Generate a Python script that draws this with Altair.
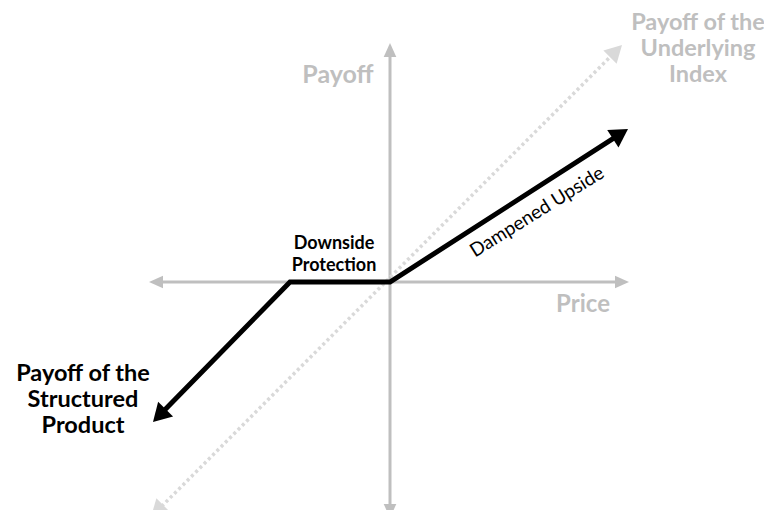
import altair as alt
import pandas as pd
import numpy as np

# Conceptual diagram coordinates: Price on x, Payoff on y, origin where axes cross
axis_h_x = [-241, 239]          # price axis tips
axis_v_y = [-236, 239]          # payoff axis tips
index_x = [-239, 232]           # payoff of the underlying index (dotted 45° line)
index_y = [-235, 237]
product_x = [-237, -100, 0, 238]  # payoff of the structured product
product_y = [-140, 0, 0, 153]

labels = ["Payoff", "Price", "Payoff of the\nUnderlying\nIndex",
          "Downside\nProtection", "Dampened Upside",
          "Payoff of the\nStructured\nProduct"]
label_x = [-52, 193, 308, -56, 147, -307]
label_y = [199, -30, 252, 33, 70, -99]

GRAY = "#bfbfbf"
DOT = "#d9d9d9"


def arrow(tip, prev, back):
    dx, dy = tip[0] - prev[0], tip[1] - prev[1]
    L = float(np.hypot(dx, dy))
    ang = float(np.degrees(np.arctan2(dx, dy)) % 360)
    end = (tip[0] - dx / L * back, tip[1] - dy / L * back)
    return ang, end


def build(seg_points, name, back):
    """Return line rows (shortened ends) and arrow rows for both ends."""
    pts = [list(p) for p in seg_points]
    heads = []
    a0, e0 = arrow(pts[0], pts[1], back)
    a1, e1 = arrow(pts[-1], pts[-2], back)
    heads.append({"x": pts[0][0], "y": pts[0][1], "angle": a0})
    heads.append({"x": pts[-1][0], "y": pts[-1][1], "angle": a1})
    pts[0] = list(e0)
    pts[-1] = list(e1)
    rows = [{"x": p[0], "y": p[1], "seg": name, "o": i} for i, p in enumerate(pts)]
    return rows, heads


X = lambda: alt.X("x:Q", scale=alt.Scale(domain=[-382, 374], nice=False, zero=False), axis=None)
Y = lambda: alt.Y("y:Q", scale=alt.Scale(domain=[-228, 274], nice=False, zero=False), axis=None)

# axes
h_rows, h_heads = build([(axis_h_x[0], 0), (axis_h_x[1], 0)], "h", 7)
v_rows, v_heads = build([(0, axis_v_y[0]), (0, axis_v_y[1])], "v", 7)
axis_df = pd.DataFrame(h_rows + v_rows)
axis_heads = pd.DataFrame(h_heads + v_heads)

# index
i_rows, i_heads = build(list(zip(index_x, index_y)), "i", 9)
index_df = pd.DataFrame(i_rows)
index_heads = pd.DataFrame(i_heads)

# product
p_rows, p_heads = build(list(zip(product_x, product_y)), "p", 10)
prod_df = pd.DataFrame(p_rows)
prod_heads = pd.DataFrame(p_heads)

TRI = lambda hw: f"M0,0L{-hw},1L{hw},1Z"

axis_lines = alt.Chart(axis_df).mark_line(color=GRAY, strokeWidth=3).encode(
    x=X(), y=Y(), detail="seg:N", order="o:Q")
axis_arrows = alt.Chart(axis_heads).mark_point(
    shape=TRI(0.45), size=4 * 14 * 14, filled=True, color=GRAY, opacity=1, strokeWidth=0
).encode(x=X(), y=Y(), angle=alt.Angle("angle:Q", scale=None))

index_line = alt.Chart(index_df).mark_line(color=DOT, strokeWidth=3.5, strokeDash=[3, 3]).encode(
    x=X(), y=Y(), order="o:Q")
index_arrows = alt.Chart(index_heads).mark_point(
    shape=TRI(0.55), size=4 * 17 * 17, filled=True, color=DOT, opacity=1, strokeWidth=0
).encode(x=X(), y=Y(), angle=alt.Angle("angle:Q", scale=None))

prod_line = alt.Chart(prod_df).mark_line(color="black", strokeWidth=5, strokeJoin="miter").encode(
    x=X(), y=Y(), order="o:Q")
prod_arrows = alt.Chart(prod_heads).mark_point(
    shape=TRI(0.58), size=4 * 18 * 18, filled=True, color="black", opacity=1, strokeWidth=0
).encode(x=X(), y=Y(), angle=alt.Angle("angle:Q", scale=None))

lab = pd.DataFrame({"label": labels, "x": label_x, "y": label_y})


def text_layer(idx, **kw):
    return alt.Chart(lab.iloc[[idx]]).mark_text(font="Lato", lineBreak="\n", align="center", **kw).encode(
        x=X(), y=Y(), text="label:N")


t_payoff = text_layer(0, fontSize=25, fontWeight="bold", color=GRAY, baseline="alphabetic")
t_price = text_layer(1, fontSize=24, fontWeight="bold", color=GRAY, baseline="alphabetic")
t_index = text_layer(2, fontSize=23.5, fontWeight="bold", color=GRAY, baseline="alphabetic", lineHeight=26)
t_down = text_layer(3, fontSize=18, fontWeight="bold", color="black", baseline="alphabetic", lineHeight=22)
t_damp = text_layer(4, fontSize=19, fontWeight="normal", color="black", baseline="middle", angle=328)
t_prod = text_layer(5, fontSize=23.5, fontWeight="bold", color="black", baseline="alphabetic", lineHeight=26)

chart = alt.layer(
    axis_lines, axis_arrows, index_line, index_arrows, prod_line, prod_arrows,
    t_payoff, t_price, t_index, t_down, t_damp, t_prod
).properties(
    width=756, height=502, autosize=alt.AutoSizeParams(type="none"), padding=0
).configure_view(stroke=None)

chart.save("out.html", embed_options={"renderer": "svg", "actions": False})
